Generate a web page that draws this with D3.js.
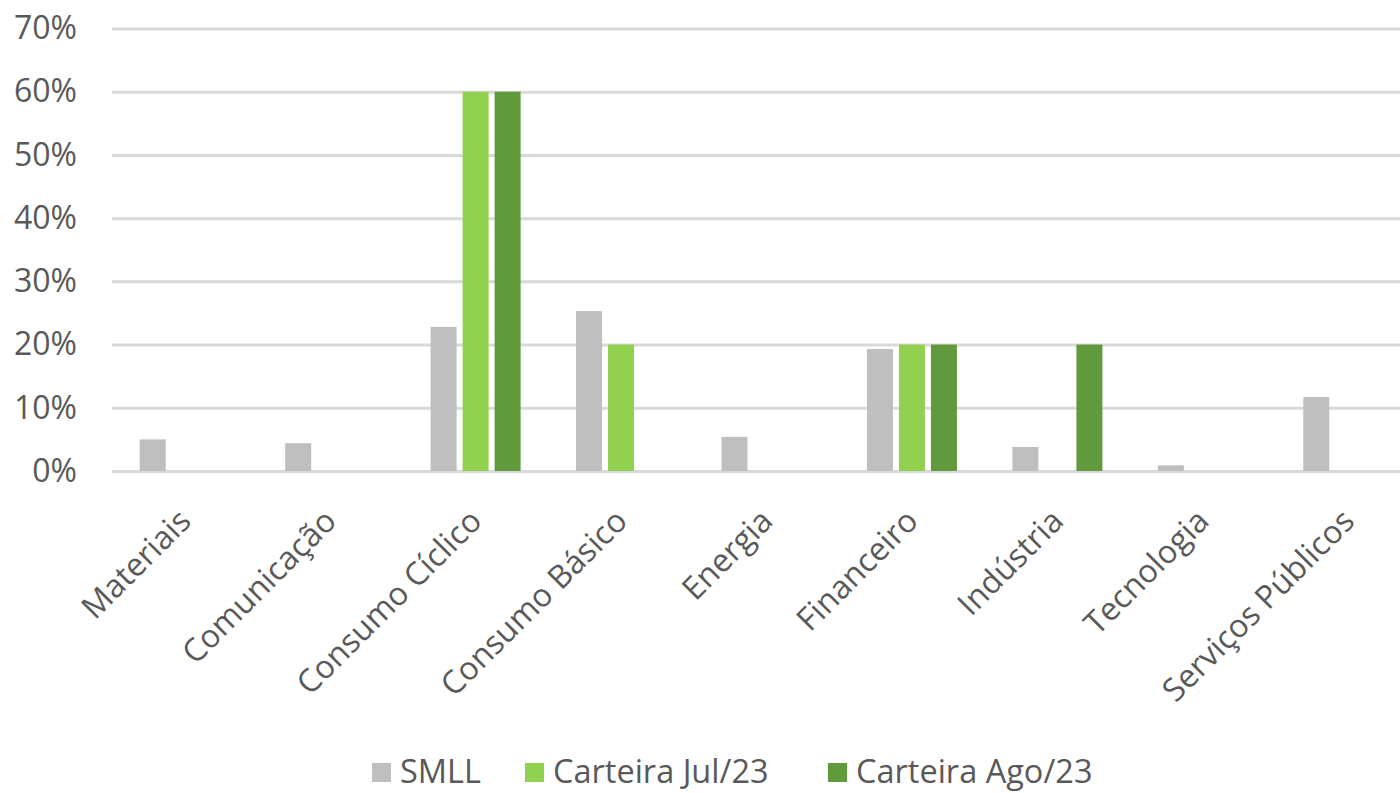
<!DOCTYPE html>
<html>
<head>
<meta charset="utf-8">
<script src="https://cdn.jsdelivr.net/npm/d3@7"></script>
<style>
  body { margin: 0; background: #fff; }
  svg { display: block; }
  svg text { font-family: 'Open Sans', sans-serif; }
</style>
</head>
<body>
<svg id="chart" width="1400" height="793"></svg>
<script>
const categories = ['Materiais', 'Comunicação', 'Consumo Cíclico', 'Consumo Básico', 'Energia',
  'Financeiro', 'Indústria', 'Tecnologia', 'Serviços Públicos']
const seriesNames = ['SMLL', 'Carteira Jul/23', 'Carteira Ago/23']
const smll = [5.0, 4.4, 22.8, 25.3, 5.4, 19.3, 3.8, 0.9, 11.7]
const carteiraJul = [0, 0, 60, 20, 0, 20, 0, 0, 0]
const carteiraAgo = [0, 0, 60, 0, 0, 20, 20, 0, 0]
const yTicks = [0, 10, 20, 30, 40, 50, 60, 70]

const colors = ['#bfbfbf', '#92d050', '#619a3c']
const textColor = '#595959'

const svg = d3.select('#chart')
const W = 1400

const plot = { left: 112, right: 1421, top: 28.5, bottom: 471 }

const x0 = d3.scaleBand()
  .domain(categories)
  .range([plot.left, plot.right])
  .paddingInner(0.34)
  .paddingOuter(0.17)

const x1 = d3.scaleBand()
  .domain(seriesNames)
  .range([0, x0.bandwidth()])
  .paddingInner(0.1875)
  .paddingOuter(0.09375)

const y = d3.scaleLinear()
  .domain([0, 70])
  .range([plot.bottom, plot.top])

// gridlines + y labels
const yAxis = svg.append('g')
  .attr('class', 'y-axis')
  .attr('transform', `translate(${plot.left},0)`)
  .call(d3.axisLeft(y)
    .tickValues(yTicks)
    .tickFormat((d) => d + '%')
    .tickSize(-(W - plot.left))
    .tickPadding(35))
  .attr('font-family', null)
  .attr('font-size', null)

yAxis.select('.domain').remove()
yAxis.selectAll('line').attr('stroke', '#d9d9d9').attr('stroke-width', 3)
yAxis.selectAll('text')
  .attr('fill', textColor)
  .style('font-size', '32px')

// bars
const rows = categories.map((c, i) => ({
  cat: c,
  values: [smll[i], carteiraJul[i], carteiraAgo[i]],
}))

const groups = svg.append('g')
  .selectAll('g')
  .data(rows)
  .join('g')
  .attr('transform', (d) => `translate(${x0(d.cat)},0)`)

groups.selectAll('rect')
  .data((d) => d.values.map((v, k) => ({ key: seriesNames[k], v, k })))
  .join('rect')
  .attr('x', (d) => x1(d.key))
  .attr('y', (d) => y(d.v))
  .attr('width', x1.bandwidth())
  .attr('height', (d) => y(0) - y(d.v))
  .attr('fill', (d) => colors[d.k])

// x labels
const xAxis = svg.append('g')
  .attr('class', 'x-axis')
  .attr('transform', `translate(0,${plot.bottom})`)
  .call(d3.axisBottom(x0).tickSize(0).tickPadding(0))
  .attr('font-family', null)
  .attr('font-size', null)

xAxis.select('.domain').remove()
xAxis.selectAll('text')
  .attr('fill', textColor)
  .style('font-size', '32px')
  .attr('text-anchor', 'end')
  .attr('dy', null)
  .attr('y', 0)
  .attr('transform', 'translate(8,52) rotate(-45)')

// legend
const legendItems = [
  { name: seriesNames[0], color: colors[0], x: 372 },
  { name: seriesNames[1], color: colors[1], x: 525 },
  { name: seriesNames[2], color: colors[2], x: 828 },
]

const legend = svg.append('g').attr('class', 'legend')
legend.selectAll('rect')
  .data(legendItems)
  .join('rect')
  .attr('x', (d) => d.x)
  .attr('y', 763)
  .attr('width', 19)
  .attr('height', 19)
  .attr('fill', (d) => d.color)

legend.selectAll('text')
  .data(legendItems)
  .join('text')
  .attr('x', (d) => d.x + 28)
  .attr('y', 783)
  .attr('fill', textColor)
  .style('font-size', '32.5px')
  .text((d) => d.name)
</script>
</body>
</html>
